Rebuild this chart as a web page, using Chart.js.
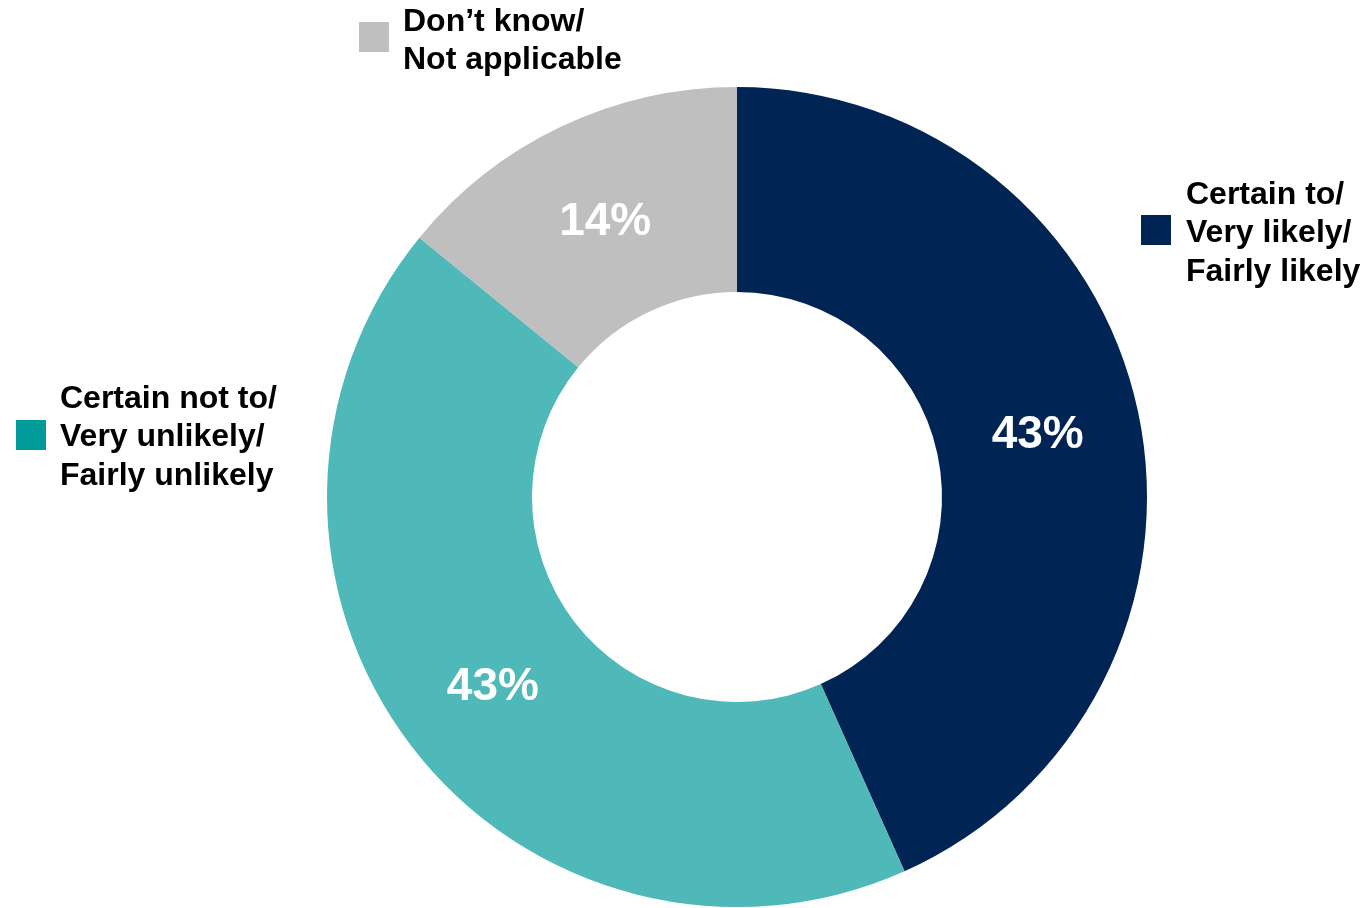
<!DOCTYPE html>
<html>
<head>
<meta charset="utf-8">
<script src="https://cdn.jsdelivr.net/npm/chart.js@4/dist/chart.umd.min.js"></script>
<style>
html,body{margin:0;padding:0;background:#fff;}
#wrap{width:1368px;height:908px;position:relative;}
</style>
</head>
<body>
<div id="wrap"><canvas id="c" width="1368" height="908"></canvas></div>
<script>
const categories = ["Certain to/\nVery likely/\nFairly likely", "Certain not to/\nVery unlikely/\nFairly unlikely", "Don\u2019t know/\nNot applicable"];
const values = [43.3, 42.6, 14.1];
const sliceColors = ["#002454", "#4FB9B9", "#BFBFBF"];
const legendColors = ["#002454", "#009B98", "#BFBFBF"];

const FONT = '"Liberation Sans", Arial, Helvetica, sans-serif';

const labelPlugin = {
  id: 'sliceLabels',
  afterDatasetsDraw(chart) {
    const ctx = chart.ctx;
    const meta = chart.getDatasetMeta(0);
    ctx.save();
    ctx.fillStyle = '#ffffff';
    ctx.font = 'bold 46px ' + FONT;
    ctx.textAlign = 'center';
    ctx.textBaseline = 'middle';
    meta.data.forEach((arc, i) => {
      const p = arc.getCenterPoint();
      ctx.fillText(Math.round(values[i]) + '%', p.x, p.y + 3);
    });
    ctx.restore();
  }
};

// legend entries placed around the doughnut (box x, box y, text x, first line y)
const legendPlacement = [
  {bx: 1141, by: 215, tx: 1186, ty: 195},
  {bx: 16, by: 420, tx: 60, ty: 399},
  {bx: 359, by: 22, tx: 403, ty: 22}
];

const legendPlugin = {
  id: 'sideLegend',
  afterDraw(chart) {
    const ctx = chart.ctx;
    ctx.save();
    ctx.font = 'bold 32px ' + FONT;
    ctx.textAlign = 'left';
    ctx.textBaseline = 'middle';
    categories.forEach((label, i) => {
      const pl = legendPlacement[i];
      ctx.fillStyle = legendColors[i];
      ctx.fillRect(pl.bx, pl.by, 30, 30);
      ctx.fillStyle = '#000000';
      label.split('\n').forEach((line, j) => {
        ctx.fillText(line, pl.tx, pl.ty + j * 38.5);
      });
    });
    ctx.restore();
  }
};

new Chart(document.getElementById('c'), {
  type: 'doughnut',
  data: {
    labels: categories,
    datasets: [{
      data: values,
      backgroundColor: sliceColors,
      borderWidth: 0,
      hoverOffset: 0
    }]
  },
  options: {
    responsive: false,
    animation: false,
    cutout: '50%',
    layout: { padding: { left: 327, right: 221, top: 87, bottom: 1 } },
    plugins: {
      legend: { display: false },
      tooltip: { enabled: false }
    }
  },
  plugins: [labelPlugin, legendPlugin]
});
</script>
</body>
</html>
